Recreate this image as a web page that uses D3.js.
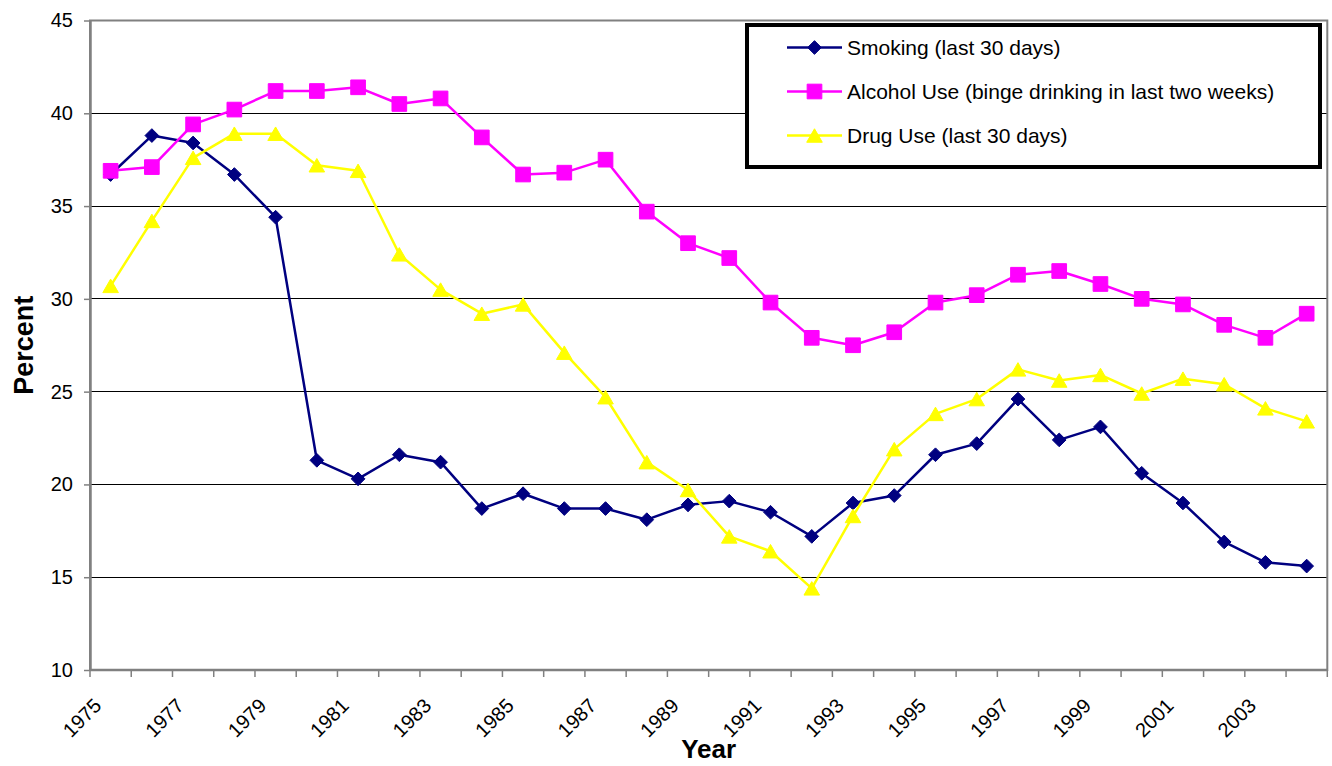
<!DOCTYPE html>
<html>
<head>
<meta charset="utf-8">
<script src="https://cdn.jsdelivr.net/npm/d3@7/dist/d3.min.js"></script>
<style>
  html, body { margin: 0; padding: 0; background: #fff; }
  svg { display: block; font-family: "Liberation Sans", Arial, sans-serif; }
</style>
</head>
<body>
<svg id="chart" width="1332" height="766"></svg>
<script>
// Survey years (one category per year)
const years = d3.range(1975, 2005);
const yearLabels = years.filter((y, i) => i % 2 === 0);

// Percent of respondents, by year
const smoking = [36.7, 38.8, 38.4, 36.7, 34.4, 21.3, 20.3, 21.6, 21.2, 18.7,
                 19.5, 18.7, 18.7, 18.1, 18.9, 19.1, 18.5, 17.2, 19.0, 19.4,
                 21.6, 22.2, 24.6, 22.4, 23.1, 20.6, 19.0, 16.9, 15.8, 15.6];
const alcohol = [36.9, 37.1, 39.4, 40.2, 41.2, 41.2, 41.4, 40.5, 40.8, 38.7,
                 36.7, 36.8, 37.5, 34.7, 33.0, 32.2, 29.8, 27.9, 27.5, 28.2,
                 29.8, 30.2, 31.3, 31.5, 30.8, 30.0, 29.7, 28.6, 27.9, 29.2];
const drugs   = [30.7, 34.2, 37.6, 38.9, 38.9, 37.2, 36.9, 32.4, 30.5, 29.2,
                 29.7, 27.1, 24.7, 21.2, 19.7, 17.2, 16.4, 14.4, 18.3, 21.9,
                 23.8, 24.6, 26.2, 25.6, 25.9, 24.9, 25.7, 25.4, 24.1, 23.4];

const seriesNames = ["Smoking (last 30 days)",
                     "Alcohol Use (binge drinking in last two weeks)",
                     "Drug Use (last 30 days)"];
const yTicks = [10, 15, 20, 25, 30, 35, 40, 45];

const series = [
  { name: seriesNames[0], values: smoking, color: "#000080", symbol: "diamond" },
  { name: seriesNames[1], values: alcohol, color: "#FF00FF", symbol: "square" },
  { name: seriesNames[2], values: drugs,   color: "#FFFF00", symbol: "triangle" }
];

const svg = d3.select("#chart");
const plotLeft = 90, plotRight = 1327.3, plotTop = 20.5, plotBottom = 670;

const x = d3.scaleBand().domain(years).range([plotLeft, plotRight]).paddingInner(0).paddingOuter(0);
const cx = yr => x(yr) + x.bandwidth() / 2;
const y = d3.scaleLinear().domain([10, 45]).range([plotBottom, plotTop]);

// Horizontal gridlines
svg.append("g")
  .selectAll("line")
  .data(yTicks.filter(t => t > 10 && t < 45))
  .join("line")
  .attr("x1", plotLeft).attr("x2", plotRight)
  .attr("y1", d => y(d)).attr("y2", d => y(d))
  .attr("stroke", "#000").attr("stroke-width", 1)
  .attr("shape-rendering", "crispEdges");

// Plot area frame
svg.append("rect")
  .attr("x", plotLeft).attr("y", plotTop)
  .attr("width", plotRight - plotLeft).attr("height", plotBottom - plotTop)
  .attr("fill", "none").attr("stroke", "#808080").attr("stroke-width", 2);

// Y axis
const yAxis = d3.axisLeft(y).tickValues(yTicks).tickSize(6).tickPadding(11).tickSizeOuter(0);
const gy = svg.append("g").attr("transform", `translate(${plotLeft},0)`).call(yAxis);
gy.select(".domain").attr("stroke", "#808080").attr("stroke-width", 2.5);
gy.selectAll(".tick line").attr("stroke", "#808080").attr("stroke-width", 1.5);
gy.selectAll(".tick text")
  .attr("font-size", 20).attr("fill", "#000")
  .attr("font-family", "Liberation Sans, Arial, sans-serif");

// X axis: tick marks on category boundaries
const xAxisG = svg.append("g");
xAxisG.append("line")
  .attr("x1", plotLeft).attr("x2", plotRight).attr("y1", plotBottom).attr("y2", plotBottom)
  .attr("stroke", "#808080").attr("stroke-width", 2.5);
const boundaries = years.map(yr => x(yr)).concat([plotRight]);
xAxisG.selectAll("line.tick")
  .data(boundaries)
  .join("line")
  .attr("class", "tick")
  .attr("x1", d => d).attr("x2", d => d)
  .attr("y1", plotBottom).attr("y2", plotBottom + 7)
  .attr("stroke", "#808080").attr("stroke-width", 1.5);
xAxisG.selectAll("text")
  .data(yearLabels)
  .join("text")
  .attr("transform", d => `translate(${cx(d) - 8},${plotBottom + 37}) rotate(-45)`)
  .attr("text-anchor", "end")
  .attr("font-size", 20)
  .attr("fill", "#000")
  .text(d => d);

// Axis titles
svg.append("text")
  .attr("x", (plotLeft + plotRight) / 2).attr("y", 758)
  .attr("text-anchor", "middle")
  .attr("font-size", 26).attr("font-weight", "bold")
  .text("Year");
svg.append("text")
  .attr("transform", `translate(33,${(plotTop + plotBottom) / 2}) rotate(-90)`)
  .attr("text-anchor", "middle")
  .attr("font-size", 27).attr("font-weight", "bold")
  .text("Percent");

// Upward triangle whose bounding box is centred on the point
const boxTriangle = {
  draw(context, size) {
    const w = Math.sqrt(size * 4 / Math.sqrt(3));
    const h = w * Math.sqrt(3) / 2;
    context.moveTo(0, -h / 2);
    context.lineTo(w / 2, h / 2);
    context.lineTo(-w / 2, h / 2);
    context.closePath();
  }
};

// Marker shapes
const symbolFor = {
  diamond: d3.symbol().type(d3.symbolDiamond2).size(120),
  square: d3.symbol().type(d3.symbolSquare).size(215),
  triangle: d3.symbol().type(boxTriangle).size(105)
};

const line = d3.line().x((d, i) => cx(years[i])).y(d => y(d));

series.forEach(s => {
  const g = svg.append("g");
  g.append("path")
    .attr("d", line(s.values))
    .attr("fill", "none")
    .attr("stroke", s.color)
    .attr("stroke-width", 2.5)
    .attr("stroke-linejoin", "round");
  g.selectAll("path.m")
    .data(s.values)
    .join("path")
    .attr("class", "m")
    .attr("transform", (d, i) => `translate(${cx(years[i])},${y(d)})`)
    .attr("d", symbolFor[s.symbol])
    .attr("fill", s.color)
    .attr("stroke", s.color)
    .attr("stroke-width", 1);
});

// Legend
const legend = svg.append("g");
legend.append("rect")
  .attr("x", 747).attr("y", 25).attr("width", 573).attr("height", 142)
  .attr("fill", "#fff").attr("stroke", "#000").attr("stroke-width", 4);
series.forEach((s, i) => {
  const ly = 47.5 + i * 44;
  const row = legend.append("g");
  row.append("line")
    .attr("x1", 787).attr("x2", 842).attr("y1", ly).attr("y2", ly)
    .attr("stroke", s.color).attr("stroke-width", 2.5);
  row.append("path")
    .attr("transform", `translate(814.5,${ly})`)
    .attr("d", symbolFor[s.symbol])
    .attr("fill", s.color).attr("stroke", s.color).attr("stroke-width", 1);
  row.append("text")
    .attr("x", 847).attr("y", ly)
    .attr("dominant-baseline", "central")
    .attr("font-size", 21)
    .text(s.name);
});
</script>
</body>
</html>
